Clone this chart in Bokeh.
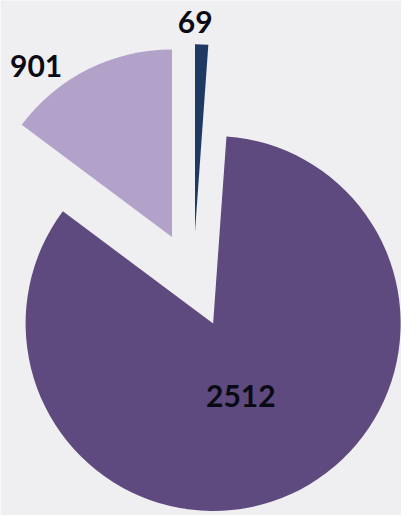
import numpy as np
import pandas as pd
from bokeh.plotting import figure
from bokeh.models import Range1d, ColumnDataSource
from bokeh.core.properties import value
from bokeh.embed import file_html
from bokeh.resources import INLINE

# ---- data ----
categories = ["A", "B", "C"]
labels = ["69", "2512", "901"]
# angular weights of the wedges as drawn in the reference
# (the drawn big slice is much larger than its label suggests)
slice_values = [69, 5120, 901]
colors = ["#1f3a62", "#5e4a7e", "#b2a2ca"]

# ---- layout / style ----
W, H = 401, 515
RW, RH = 417, 531          # reference frame units
cx, cy = 200.5, 243.0      # pie centre (y measured upward)
R = 195.0                  # radius
explode = 49.5             # explode distance
label_r = [1.11, 0.41, 1.16]       # label distance (in R) from exploded apex
label_shift = [2.0, -3.5, 12.0]    # label angle shift (degrees)

df = pd.DataFrame({"cat": categories, "label": labels, "v": slice_values, "color": colors})
total = df["v"].sum()
frac_end = df["v"].cumsum() / total
frac_start = frac_end - df["v"] / total
df["start"] = np.pi / 2 - frac_start * 2 * np.pi
df["end"] = np.pi / 2 - frac_end * 2 * np.pi
df["mid"] = (df["start"] + df["end"]) / 2
df["x"] = cx + explode * np.cos(df["mid"])
df["y"] = cy + explode * np.sin(df["mid"])
la = df["mid"] + np.radians(label_shift)
df["lx"] = df["x"] + np.array(label_r) * R * np.cos(la)
df["ly"] = df["y"] + np.array(label_r) * R * np.sin(la)

src = ColumnDataSource(df)

p = figure(width=W, height=H, output_backend="svg", toolbar_location=None,
           x_range=Range1d(0, RW), y_range=Range1d(0, RH),
           min_border=0, outline_line_color=None)
p.axis.visible = False
p.grid.visible = False
p.background_fill_color = "#efeff1"
p.border_fill_color = "#efeff1"

p.wedge(x="x", y="y", radius=R, start_angle="start", end_angle="end",
        direction="clock", fill_color="color", line_color=None, source=src)

p.text(x="lx", y="ly", text="label", source=src,
       text_font=value("Lato"), text_font_style="bold", text_font_size="30px",
       text_color="#0a0a14", text_align="center", text_baseline="middle")

open("out.html", "w").write(file_html(p, INLINE))
